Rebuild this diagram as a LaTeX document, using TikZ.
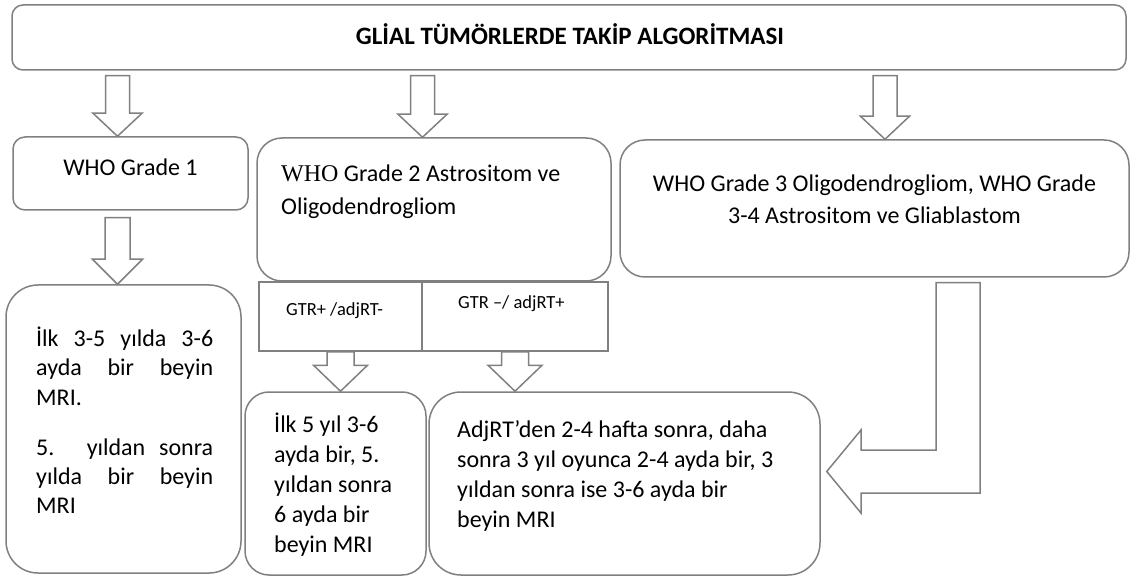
\documentclass[tikz,border=0pt]{standalone}
\usepackage{fontspec}
\setmainfont{Carlito}
\newfontfamily\whoserif{Liberation Serif}
\usetikzlibrary{calc,fit}

\definecolor{edge}{RGB}{128,128,128}

\tikzset{
  box/.style={draw=edge, line width=1.5pt, fill=white, inner sep=0pt},
  body/.style={inner sep=0pt, text=black, font=\fontsize{24}{30}\selectfont},
  small/.style={inner sep=0pt, text=black, font=\fontsize{18.5}{22}\selectfont},
  hollow/.style={draw=edge, line width=1.5pt, fill=white, line join=miter},
}

% Hollow block arrow pointing down.
% #1 x centre, #2 start anchor, #3 end anchor, #4 gap below start,
% #5 head length, #6 shaft half width, #7 head half width
\newcommand\blockdown[7]{%
  \draw[hollow] let \p1=(#2), \p2=(#3) in
    ({#1pt-#6pt},{\y1-#4pt}) -- ({#1pt-#6pt},{\y2+#5pt}) --
    ({#1pt-#7pt},{\y2+#5pt}) -- ({#1pt},{\y2}) --
    ({#1pt+#7pt},{\y2+#5pt}) -- ({#1pt+#6pt},{\y2+#5pt}) --
    ({#1pt+#6pt},{\y1-#4pt}) -- cycle;}

\begin{document}
\begin{tikzpicture}[x=1pt, y=-1pt]
\useasboundingbox (0,0) rectangle (1130,577);

% frames
\node[box, rounded corners=11pt, fit={(12,5) (1126,70)}] (title) {};
\node[box, rounded corners=12pt, fit={(13,137) (248,210)}] (g1) {};
\node[box, rounded corners=25pt, fit={(257,138) (611,281)}] (g2) {};
\node[box, rounded corners=25pt, fit={(620,140) (1129,277)}] (g3) {};
\node[box, fit={(259,282) (422,351)}] (gtrA) {};
\node[box, fit={(422,282) (608,351)}] (gtrB) {};
\node[box, rounded corners=32pt, fit={(6,285) (241,573)}] (f1) {};
\node[box, rounded corners=24pt, fit={(245,392) (426,575)}] (f2) {};
\node[box, rounded corners=32pt, fit={(429,392) (820,575)}] (f3) {};

% texts
\node[inner sep=0pt, anchor=base, font=\fontsize{25}{30}\selectfont\bfseries] (titletext) at (570,45)
  {GLİAL TÜMÖRLERDE TAKİP ALGORİTMASI};
\node[body, anchor=base] (g1text) at (130.5,176) {WHO Grade 1};
\node[body, anchor=base west] (g2text) at (281,182)
  {\parbox[t]{320pt}{\baselineskip=33pt\raggedright
   {\whoserif WHO} Grade 2 Astrositom ve\\Oligodendrogliom}};
\node[body, anchor=base] (g3text) at (874.5,192)
  {\parbox[t]{490pt}{\baselineskip=32pt\centering
   WHO Grade 3 Oligodendrogliom, WHO Grade\\3-4 Astrositom ve Gliablastom}};
\node[small, anchor=base west] (gtrAtext) at (286,316) {GTR+ /adjRT-};
\node[small, anchor=base west] (gtrBtext) at (458,309) {GTR –/ adjRT+};
\node[body, anchor=base west] (f1text) at (36,346)
  {\parbox[t]{177pt}{\baselineskip=29.5pt
   \makebox[177pt][s]{İlk 3-5 yılda 3-6}\\
   \makebox[177pt][s]{ayda bir beyin}\\
   MRI.\\[20.5pt]
   \makebox[177pt][s]{5. yıldan sonra}\\
   \makebox[177pt][s]{yılda bir beyin}\\
   MRI}};
\node[body, anchor=base west] (f2text) at (274,432)
  {\parbox[t]{145pt}{\baselineskip=30pt\raggedright
   İlk 5 yıl 3-6\\ayda bir, 5.\\yıldan sonra\\6 ayda bir\\beyin MRI}};
\node[body, anchor=base west] (f3text) at (457,437)
  {\parbox[t]{350pt}{\baselineskip=30pt\raggedright
   AdjRT’den 2-4 hafta sonra, daha\\sonra 3 yıl oyunca 2-4 ayda bir, 3\\yıldan sonra ise 3-6 ayda bir\\beyin MRI}};

% block arrows
\blockdown{117.5}{title.south}{g1.north}{5}{23}{12}{24.5}
\blockdown{422.5}{title.south}{g2.north}{5}{23}{12}{24.5}
\blockdown{885}{title.south}{g3.north}{5}{23}{12}{24.5}
\blockdown{117.5}{g1.south}{f1.north}{7}{25}{12.5}{25}
\blockdown{340.5}{gtrA.south}{f2.north}{0}{26}{13.5}{27}
\blockdown{515}{gtrB.south}{f3.north}{0}{26}{13.5}{27}

% L-shaped arrow from the grade 3 frame into the right follow-up frame
\draw[hollow] let \p1=(g3.south), \p2=(f3.east) in
  (936pt,{\y1-5pt}) -- (936pt,-450pt) -- (861pt,-450pt) -- (861pt,-430pt) --
  ({\x2+6pt},-471.5pt) -- (861pt,-513pt) -- (861pt,-493pt) -- (980pt,-493pt) --
  (980pt,{\y1-5pt}) -- cycle;
\end{tikzpicture}
\end{document}
